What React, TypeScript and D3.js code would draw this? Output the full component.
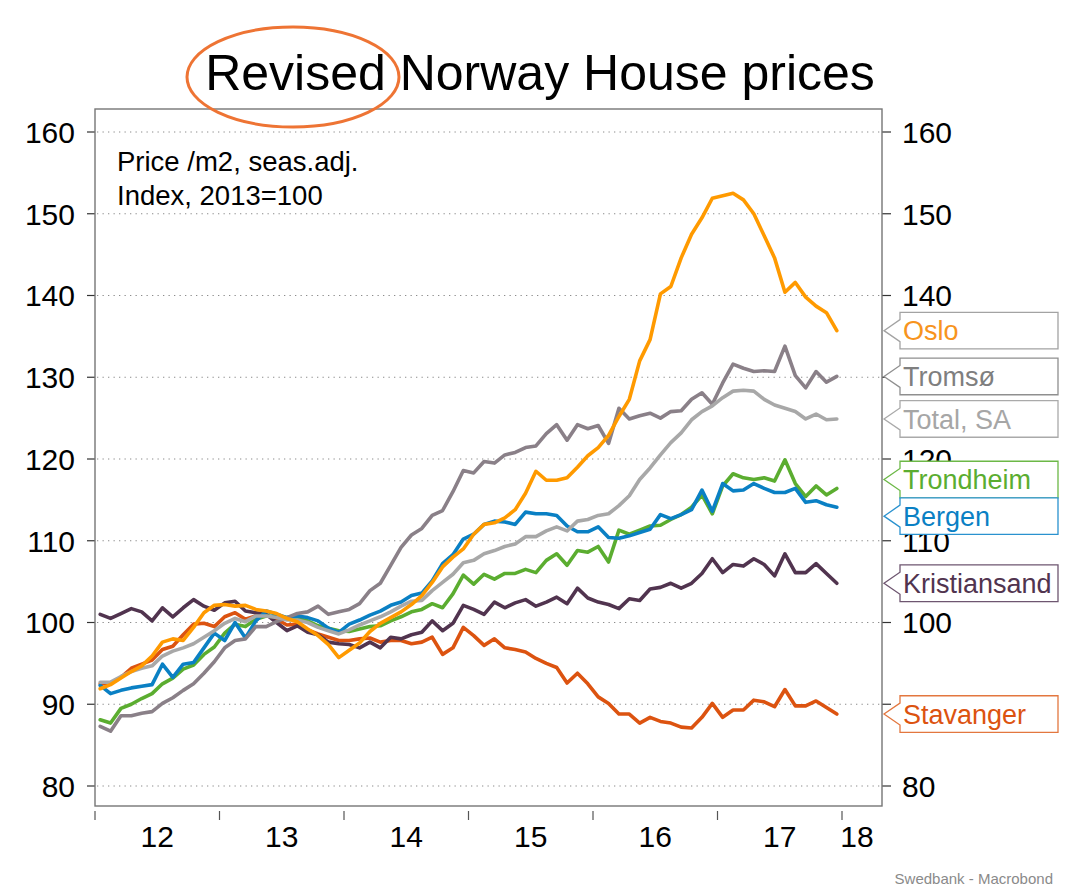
import React, { useEffect, useRef } from "react";
import * as d3 from "d3";

// monthly index, Jan 2012 - Dec 2017 (2013=100)
const startYear = 2012;
const yearTicks = [2012, 2013, 2014, 2015, 2016, 2017, 2018];
const yearLabels = ["12", "13", "14", "15", "16", "17", "18"];
const valueTicks = [80, 90, 100, 110, 120, 130, 140, 150, 160];

const oslo = [
    91.9, 92.4, 93.2, 94.0, 94.7, 95.9, 97.6, 98.0, 97.8, 99.4, 101.2, 102.1,
    102.2, 102.0, 102.1, 101.6, 101.4, 101.1, 100.5, 100.1, 99.2, 98.4, 97.3, 95.7,
    96.6, 97.5, 98.9, 99.9, 100.6, 101.3, 102.2, 103.3, 104.9, 106.8, 108.0, 109.0,
    110.8, 112.0, 112.2, 112.8, 113.8, 115.8, 118.5, 117.4, 117.4, 117.7, 119.0, 120.4,
    121.4, 122.9, 125.2, 127.3, 132.0, 134.6, 140.2, 141.1, 144.6, 147.5, 149.5, 151.9,
    152.2, 152.5, 151.7, 150.0, 147.3, 144.6, 140.4, 141.6, 139.8, 138.7, 137.9, 135.7
];
const tromso = [
    87.3, 86.7, 88.6, 88.6, 88.9, 89.1, 90.1, 90.8, 91.7, 92.5, 93.8, 95.2,
    96.9, 97.8, 98.0, 99.5, 99.5, 100.1, 100.6, 101.1, 101.3, 102.0, 101.0, 101.3,
    101.6, 102.3, 103.9, 104.8, 107.0, 109.2, 110.7, 111.5, 113.1, 113.7, 116.0, 118.6,
    118.3, 119.7, 119.5, 120.5, 120.8, 121.4, 121.6, 123.1, 124.2, 122.3, 124.2, 123.7,
    124.1, 121.9, 126.2, 124.9, 125.3, 125.6, 125.0, 125.8, 125.9, 127.3, 128.1, 126.7,
    129.3, 131.6, 131.1, 130.7, 130.8, 130.7, 133.8, 130.2, 128.7, 130.7, 129.4, 130.1
];
const totalSA = [
    92.7, 92.7, 93.4, 94.0, 94.4, 94.7, 95.9, 96.5, 96.9, 97.4, 98.2, 99.0,
    99.9, 100.5, 100.1, 100.8, 100.8, 100.6, 100.3, 100.3, 100.0, 99.4, 99.0, 98.6,
    99.1, 99.7, 100.2, 100.7, 101.3, 102.0, 102.6, 102.7, 103.9, 104.9, 105.9, 107.3,
    107.6, 108.4, 108.8, 109.3, 109.6, 110.5, 110.5, 111.2, 111.7, 111.2, 112.4, 112.6,
    113.1, 113.3, 114.3, 115.5, 117.5, 118.9, 120.5, 122.0, 123.2, 124.8, 125.8, 126.5,
    127.5, 128.3, 128.4, 128.3, 127.3, 126.6, 126.2, 125.8, 124.9, 125.5, 124.8, 124.9
];
const trondheim = [
    88.1, 87.7, 89.5, 90.0, 90.7, 91.3, 92.5, 93.2, 94.3, 94.8, 96.1, 97.0,
    98.7, 99.8, 99.5, 100.4, 100.8, 100.7, 100.6, 100.5, 100.2, 99.6, 99.3, 99.0,
    98.9, 99.2, 99.5, 99.6, 100.2, 100.7, 101.3, 101.6, 102.3, 101.8, 103.5, 105.8,
    104.7, 105.9, 105.3, 106.0, 106.0, 106.5, 106.1, 107.6, 108.4, 107.0, 108.8, 108.6,
    109.3, 107.4, 111.3, 110.8, 111.3, 111.8, 111.9, 112.6, 113.2, 114.1, 115.6, 113.3,
    116.7, 118.2, 117.7, 117.5, 117.7, 117.3, 119.9, 117.0, 115.4, 116.7, 115.6, 116.4
];
const bergen = [
    92.3, 91.3, 91.7, 92.0, 92.2, 92.4, 94.9, 93.3, 94.9, 95.1, 96.9, 98.7,
    97.8, 100.0, 98.1, 100.2, 101.4, 101.0, 100.6, 100.8, 100.6, 100.2, 99.3, 98.8,
    99.8, 100.3, 100.9, 101.4, 102.1, 102.5, 103.3, 103.6, 105.1, 107.2, 108.3, 110.2,
    110.8, 112.0, 112.4, 112.3, 112.0, 113.5, 113.3, 113.3, 113.1, 111.8, 111.1, 111.1,
    111.7, 110.4, 110.3, 110.6, 111.0, 111.4, 113.2, 112.7, 113.2, 113.8, 116.2, 113.6,
    117.0, 116.1, 116.2, 117.0, 116.4, 115.9, 115.9, 116.4, 114.7, 114.9, 114.4, 114.1
];
const kristiansand = [
    101.0, 100.5, 101.1, 101.7, 101.3, 100.2, 101.8, 100.7, 101.8, 102.8, 102.0, 101.5,
    102.4, 102.6, 101.4, 101.2, 101.0, 100.0, 99.0, 99.6, 98.8, 98.5, 97.6, 97.4,
    97.3, 96.9, 97.6, 96.9, 98.2, 98.0, 98.5, 98.8, 100.2, 99.0, 99.9, 102.1,
    101.6, 101.0, 102.5, 101.8, 102.4, 102.8, 102.0, 102.5, 103.1, 102.3, 104.2, 103.0,
    102.5, 102.2, 101.7, 102.9, 102.7, 104.1, 104.3, 104.8, 104.2, 104.8, 106.0, 107.8,
    106.1, 107.1, 106.9, 107.8, 107.1, 105.7, 108.4, 106.1, 106.1, 107.2, 106.0, 104.8
];
const stavanger = [
    92.5, 92.5, 93.3, 94.4, 94.9, 95.4, 96.7, 97.1, 98.5, 99.8, 99.9, 99.5,
    100.7, 101.2, 100.4, 100.8, 100.9, 100.4, 99.7, 99.8, 99.1, 98.6, 98.2, 97.8,
    97.8, 98.0, 98.1, 97.6, 97.8, 97.8, 97.4, 97.6, 98.2, 96.1, 96.9, 99.4,
    98.4, 97.2, 98.0, 96.9, 96.7, 96.4, 95.6, 95.0, 94.5, 92.6, 93.8, 92.5,
    90.9, 90.1, 88.8, 88.8, 87.7, 88.4, 87.9, 87.7, 87.2, 87.1, 88.4, 90.1,
    88.4, 89.3, 89.3, 90.5, 90.3, 89.7, 91.8, 89.8, 89.8, 90.4, 89.6, 88.8
];

// drawing order, bottom to top
const seriesList = [
    { name: "Stavanger", values: stavanger, colour: "#DC5310", border: "#E3773F" },
    { name: "Kristiansand", values: kristiansand, colour: "#51344F", border: "#6E5670" },
    { name: "Trondheim", values: trondheim, colour: "#5BAD30", border: "#6CB847" },
    { name: "Bergen", values: bergen, colour: "#0A80C4", border: "#2A92CF" },
    { name: "Tromsø", values: tromso, colour: "#8A8088", border: "#8F8F8F" },
    { name: "Total, SA", values: totalSA, colour: "#A8A8A8", border: "#AAAAAA" },
    { name: "Oslo", values: oslo, colour: "#FF9A00", border: "#A3A3A3" }
];
const labelTextColours = {
    "Oslo": "#F7941D",
    "Tromsø": "#7F7F7F",
    "Total, SA": "#A6A6A6",
    "Trondheim": "#5BAD30",
    "Bergen": "#0A80C4",
    "Kristiansand": "#51344F",
    "Stavanger": "#DC5310"
};

const App = () => {
    const svgRef = useRef(null);

    useEffect(() => {
        if (!svgRef.current) return;

        const width = 1081;
        const height = 888;
        const frame = { left: 95, right: 882, top: 109, bottom: 806 };
        const font = "'Liberation Sans', Arial, sans-serif";

        const svg = d3.select(svgRef.current)
            .attr("width", width)
            .attr("height", height)
            .style("background", "white");
        svg.selectAll("*").remove();

        const x = d3.scaleLinear().domain([2012, 2018]).range([95, 842]);
        const y = d3.scaleLinear().domain([80, 160]).range([786, 132]);
        const monthDate = (i) => startYear + (i + 0.5) / 12;

        // title
        svg.append("text")
            .attr("x", 540)
            .attr("y", 90)
            .attr("text-anchor", "middle")
            .style("font-family", font)
            .style("font-size", "50px")
            .style("fill", "black")
            .text("Revised Norway House prices");

        // grid
        svg.append("g")
            .selectAll("line")
            .data(valueTicks)
            .enter().append("line")
            .attr("x1", frame.left + 2)
            .attr("x2", frame.right)
            .attr("y1", d => y(d))
            .attr("y2", d => y(d))
            .style("stroke", "#8c8c8c")
            .style("stroke-width", 1.2)
            .style("stroke-dasharray", "1.3,4.2");

        // left & right value ticks and labels
        const leftTicks = svg.append("g");
        leftTicks.selectAll("line")
            .data(valueTicks)
            .enter().append("line")
            .attr("x1", 87).attr("x2", frame.left)
            .attr("y1", d => y(d)).attr("y2", d => y(d))
            .style("stroke", "#333").style("stroke-width", 1.2);
        leftTicks.selectAll("text")
            .data(valueTicks)
            .enter().append("text")
            .attr("x", 75)
            .attr("y", d => y(d))
            .attr("dy", "0.36em")
            .attr("text-anchor", "end")
            .style("font-family", font)
            .style("font-size", "30px")
            .text(d => d);

        const rightTicks = svg.append("g");
        rightTicks.selectAll("line")
            .data(valueTicks)
            .enter().append("line")
            .attr("x1", frame.right).attr("x2", 891)
            .attr("y1", d => y(d)).attr("y2", d => y(d))
            .style("stroke", "#333").style("stroke-width", 1.2);
        rightTicks.selectAll("text")
            .data(valueTicks)
            .enter().append("text")
            .attr("x", 902)
            .attr("y", d => y(d))
            .attr("dy", "0.36em")
            .style("font-family", font)
            .style("font-size", "30px")
            .text(d => d);

        // year ticks below frame
        const xAxis = svg.append("g");
        xAxis.selectAll("line")
            .data(yearTicks)
            .enter().append("line")
            .attr("x1", d => x(d)).attr("x2", d => x(d))
            .attr("y1", 811).attr("y2", 820)
            .style("stroke", "#555").style("stroke-width", 1.2);
        xAxis.selectAll("text")
            .data(yearTicks)
            .enter().append("text")
            .attr("x", d => Math.min(x(d + 0.5), frame.right - 25))
            .attr("y", 847)
            .attr("text-anchor", "middle")
            .style("font-family", font)
            .style("font-size", "30px")
            .text((d, i) => yearLabels[i]);

        // lines
        const line = d3.line()
            .x((d, i) => x(monthDate(i)))
            .y(d => y(d))
            .curve(d3.curveLinear);

        svg.append("g")
            .selectAll("path")
            .data(seriesList)
            .enter().append("path")
            .attr("d", d => line(d.values))
            .attr("fill", "none")
            .attr("stroke", d => d.colour)
            .attr("stroke-width", 3.6)
            .attr("stroke-linejoin", "round")
            .attr("stroke-linecap", "round");

        // frame
        svg.append("rect")
            .attr("x", frame.left)
            .attr("y", frame.top)
            .attr("width", frame.right - frame.left)
            .attr("height", frame.bottom - frame.top)
            .attr("fill", "none")
            .attr("stroke", "#767676")
            .attr("stroke-width", 1.4);

        // note text
        svg.append("text")
            .attr("x", 117).attr("y", 171)
            .style("font-family", font).style("font-size", "27.5px")
            .text("Price /m2, seas.adj.");
        svg.append("text")
            .attr("x", 117).attr("y", 205)
            .style("font-family", font).style("font-size", "27.5px")
            .text("Index, 2013=100");

        // end labels, pushed apart where they would overlap
        const boxH = 36.6;
        const labels = seriesList.map(s => ({
            name: s.name,
            border: s.border,
            cy: y(s.values[s.values.length - 1])
        })).sort((a, b) => a.cy - b.cy);

        for (let iter = 0; iter < 60; iter++) {
            for (let k = 1; k < labels.length; k++) {
                const gap = labels[k].cy - labels[k - 1].cy;
                if (gap < boxH) {
                    const push = (boxH - gap) / 2;
                    labels[k - 1].cy -= push;
                    labels[k].cy += push;
                }
            }
        }

        const bx0 = 900;
        const bx1 = 1058;
        const tipX = 884;
        const notch = 11;
        const labelGroup = svg.append("g")
            .selectAll("g")
            .data(labels)
            .enter().append("g");

        labelGroup.append("path")
            .attr("d", d => {
                const top = d.cy - boxH / 2;
                const bot = d.cy + boxH / 2;
                return `M${bx0},${top} L${bx1},${top} L${bx1},${bot} L${bx0},${bot} L${bx0},${d.cy + notch} L${tipX},${d.cy} L${bx0},${d.cy - notch} Z`;
            })
            .attr("fill", "white")
            .attr("stroke", d => d.border)
            .attr("stroke-width", 1.3);

        labelGroup.append("text")
            .attr("x", 903)
            .attr("y", d => d.cy)
            .attr("dy", "0.36em")
            .style("font-family", font)
            .style("font-size", "27px")
            .style("fill", d => labelTextColours[d.name])
            .text(d => d.name);

        // source
        svg.append("text")
            .attr("x", 1053)
            .attr("y", 884)
            .attr("text-anchor", "end")
            .style("font-family", font)
            .style("font-size", "15px")
            .style("fill", "#8a8a8a")
            .text("Swedbank - Macrobond");

        // highlight ring round "Revised"
        svg.append("ellipse")
            .attr("cx", 293)
            .attr("cy", 77)
            .attr("rx", 106)
            .attr("ry", 50)
            .attr("fill", "none")
            .attr("stroke", "#EE7434")
            .attr("stroke-width", 3);
    }, []);

    return (
        <div style={{ position: "absolute", left: 0, top: 0 }}>
            <svg ref={svgRef} style={{ display: "block" }}></svg>
        </div>
    );
};

export default App;
